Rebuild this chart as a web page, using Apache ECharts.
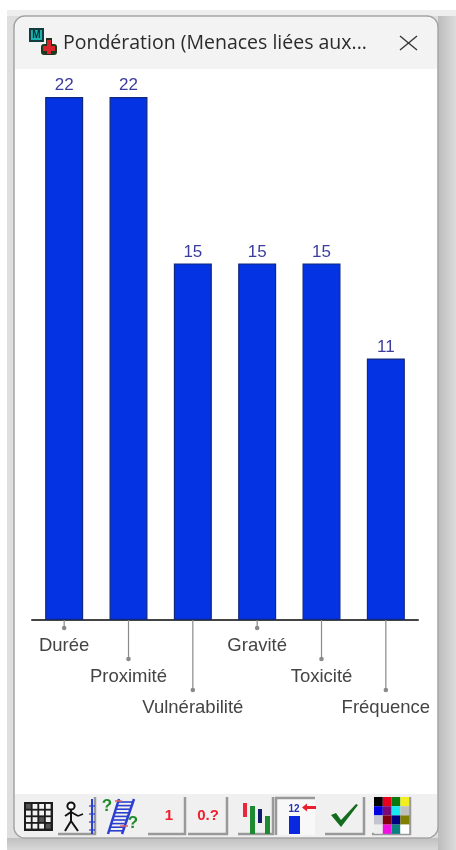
<!DOCTYPE html>
<html>
<head>
<meta charset="utf-8">
<script src="https://cdn.jsdelivr.net/npm/echarts@6/dist/echarts.min.js"></script>
<style>
  html, body { margin: 0; padding: 0; background: #fff; }
  #main { width: 456px; height: 850px; }
</style>
</head>
<body>
<div id="main"></div>
<script>
var categories = ['Durée', 'Proximité', 'Vulnérabilité', 'Gravité', 'Toxicité', 'Fréquence'];
var weights = [22, 22, 15, 15, 15, 11];
var labelRows = [0, 1, 2, 0, 1, 2]; // ligne de l'étiquette sous l'axe
var titleText = 'Pondération (Menaces liées aux...';

var rowHeight = 31;

function rect(x, y, w, h, fill, extra) {
  return Object.assign({ type: 'rect', shape: { x: x, y: y, width: w, height: h }, style: { fill: fill } }, extra || {});
}
function seg(x1, y1, x2, y2, color, w) {
  return { type: 'line', shape: { x1: x1, y1: y1, x2: x2, y2: y2 }, style: { stroke: color, lineWidth: w || 1 } };
}
function label(x, y, t, color, font) {
  return { type: 'text', x: x, y: y, style: { text: t, fill: color, font: font, textAlign: 'center', textVerticalAlign: 'middle' } };
}
function grad(x, y, x2, y2, c1, c2) {
  return { type: 'linear', x: x, y: y, x2: x2, y2: y2, colorStops: [{ offset: 0, color: c1 }, { offset: 1, color: c2 }] };
}
// bouton de la barre d'outils
function button(x, w, pressed) {
  var y = 797, h = 38, dark = '#999999';
  return [
    rect(x, y, w, h, pressed ? '#f8f8f8' : '#f0f0f0'),
    seg(x, pressed ? y + 1 : y + h - 1, x + w, pressed ? y + 1 : y + h - 1, dark, 2.5),
    seg(pressed ? x + 1 : x + w - 1, y, pressed ? x + 1 : x + w - 1, y + h, dark, 2.5)
  ];
}

function chrome() {
  var g = [
    // ombre de la fenetre
    rect(7, 10, 449, 840, '#dedede'),
    rect(7, 10, 449, 6, '#eeeeee'),
    rect(438, 16, 18, 834, grad(0, 0, 1, 0, '#bcbcbc', '#dcdcdc')),
    rect(7, 838, 431, 12, grad(0, 0, 0, 1, '#c0c0c0', '#d8d8d8')),
    rect(14, 16, 424, 822, '#ffffff', {
      shape: { x: 14, y: 16, width: 424, height: 822, r: 11 },
      style: { fill: '#fff', stroke: '#a4a4a4', lineWidth: 1.5 }
    }),
    rect(15, 17, 422, 52, '#f3f3f3', { shape: { x: 15, y: 17, width: 422, height: 52, r: [10, 10, 0, 0] } }),
    rect(15, 794, 422, 43, '#f0f0f0', { shape: { x: 15, y: 794, width: 422, height: 43, r: [0, 0, 10, 10] } }),
    // icone de l'application
    rect(29, 28, 15, 14, '#123c40'),
    rect(31, 30, 11, 10, '#18b4b0'),
    label(36.5, 35, 'M', '#0b2a30', 'bold 10px "Liberation Sans"'),
    rect(41, 44, 16, 11, '#1e3a1e', { shape: { x: 41, y: 44, width: 16, height: 11, r: 3 } }),
    rect(46, 38, 6, 17, '#24301e'),
    rect(47, 40, 4, 14, '#d8242a'),
    rect(43, 46, 12, 5, '#d8242a'),
    { type: 'text', x: 63, y: 43, style: { text: titleText, fill: '#2b2b2b', font: '19.5px "Open Sans"', textVerticalAlign: 'middle' } },
    seg(400, 36, 417, 50, '#333', 1.3),
    seg(417, 36, 400, 50, '#333', 1.3)
  ];
  // tableau
  g.push(rect(24, 802, 29, 29, '#1c1c1c'));
  for (var i = 0; i < 4; i++) {
    for (var j = 0; j < 4; j++) {
      var grey = (i === 0 && j === 0) || (i === 2 && j === 2) || (i === 3 && j === 3);
      g.push(rect(26 + i * 6.6, 804 + j * 6.6, 4.8, 4.8, grey ? '#555' : '#f2f2f2'));
    }
  }
  // personnage et echelle
  g = g.concat(button(58, 38));
  g.push({ type: 'circle', shape: { cx: 71, cy: 806, r: 3.6 }, style: { fill: '#fff', stroke: '#111', lineWidth: 2 } });
  g.push(seg(71, 810, 71, 821, '#111', 2), seg(71, 821, 65, 831, '#111', 2), seg(71, 821, 78, 831, '#111', 2),
         seg(65, 816, 71, 812, '#111', 2), seg(71, 812, 78, 816, '#111', 2), seg(78, 816, 83, 814, '#111', 1.5),
         seg(92, 799, 92, 834, '#2a3fd0', 2));
  for (var k = 0; k < 4; k++) g.push(seg(89, 806 + k * 8, 95, 806 + k * 8, '#2a3fd0', 1.2));
  // echelle inclinee
  g.push(rect(97, 797, 40, 38, '#f0f0f0'));
  g.push(seg(119, 799, 108, 834, '#2a3fd0', 2.5), seg(134, 799, 122, 834, '#2a3fd0', 2.5));
  for (k = 0; k < 9; k++) g.push(seg(118 - k * 1.25, 802 + k * 3.6, 132 - k * 1.25, 802 + k * 3.6, '#2a3fd0', 1.6));
  g.push(seg(115, 801, 122, 801, '#e06060', 1.5), seg(120, 826, 128, 826, '#e06060', 1.5));
  g.push(label(107, 806, '?', '#1f8a2a', 'bold 17px "Liberation Sans"'), label(133, 823, '?', '#1f8a2a', 'bold 17px "Liberation Sans"'));
  // boutons 1 et 0.?
  g = g.concat(button(148, 38), button(188, 40));
  g.push(label(169, 816, '1', '#ee2030', 'bold 15px "Liberation Sans"'), label(208, 816, '0.?', '#ee2030', 'bold 15px "Liberation Sans"'));
  // barres
  g = g.concat(button(238, 36));
  g.push(rect(243, 803, 4, 14, '#e8283c'), rect(250, 806, 5, 28, '#1d8a32'), rect(258, 809, 4, 14, '#101a70'), rect(265, 816, 5, 18, '#1d8a32'));
  // bouton enfonce
  g = g.concat(button(275, 40, true));
  g.push(label(294, 809, '12', '#2333b0', 'bold 10px "Liberation Sans"'), rect(289, 816, 11, 18, '#0a28e0'), rect(306, 806, 10, 3, '#e8202c'));
  g.push({ type: 'polygon', shape: { points: [[302, 807.5], [307, 803.5], [307, 811.5]] }, style: { fill: '#e8202c' } });
  // valider
  g = g.concat(button(325, 40));
  g.push({ type: 'polygon', shape: { points: [[331, 815], [336, 813], [341, 820], [356, 804], [358, 805], [341, 827]] }, style: { fill: '#136b1d' } });
  // palette
  g = g.concat(button(372, 39));
  var pal = ['#000', '#e8001c', '#0a7a10', '#f2ee20', '#0000e0', '#7a0a7a', '#18e8f0', '#c0c0c0',
             '#c4c4d0', '#800010', '#000080', '#808000', '#eee', '#f010e0', '#0a8080', '#fff'];
  pal.forEach(function (c, n) {
    g.push(rect(374 + (n % 4) * 8.8, 797 + Math.floor(n / 4) * 9.2, 8.8, 9.2, c));
  });
  return g;
}

var chart = echarts.init(document.getElementById('main'));
chart.setOption({
  animation: false,
  backgroundColor: '#fff',
  textStyle: { fontFamily: '"Liberation Sans", Arial, sans-serif' },
  graphic: { elements: chrome() },
  grid: { left: 32, top: 97, width: 386, height: 523 },
  xAxis: {
    type: 'category',
    data: categories,
    axisTick: { show: false },
    axisLine: { lineStyle: { color: '#444', width: 2 } },
    axisLabel: {
      interval: 0,
      margin: 10,
      color: '#444',
      fontSize: 18.5,
      lineHeight: rowHeight,
      formatter: function (v, i) {
        return '\n'.repeat(labelRows[i]) + v;
      }
    }
  },
  yAxis: { type: 'value', min: 0, max: 22, show: false },
  series: [
    {
      type: 'bar',
      data: weights,
      barWidth: 38,
      itemStyle: { color: '#0433e4', borderColor: '#10287c', borderWidth: 1.2 },
      label: { show: true, position: 'top', distance: 3, color: '#3c3c9c', fontSize: 17 }
    },
    {
      // traits de rappel vers les etiquettes
      type: 'custom',
      data: labelRows,
      silent: true,
      renderItem: function (params, api) {
        var p = api.coord([params.dataIndex, 0]);
        var len = 8 + api.value(1) * rowHeight;
        return {
          type: 'group',
          children: [
            { type: 'line', shape: { x1: p[0], y1: p[1], x2: p[0], y2: p[1] + len }, style: { stroke: '#8a8a8a', lineWidth: 1.2 } },
            { type: 'circle', shape: { cx: p[0], cy: p[1] + len, r: 2.3 }, style: { fill: '#8a8a8a' } }
          ]
        };
      },
      encode: { x: 0, y: 1 }
    }
  ]
});
</script>
</body>
</html>
